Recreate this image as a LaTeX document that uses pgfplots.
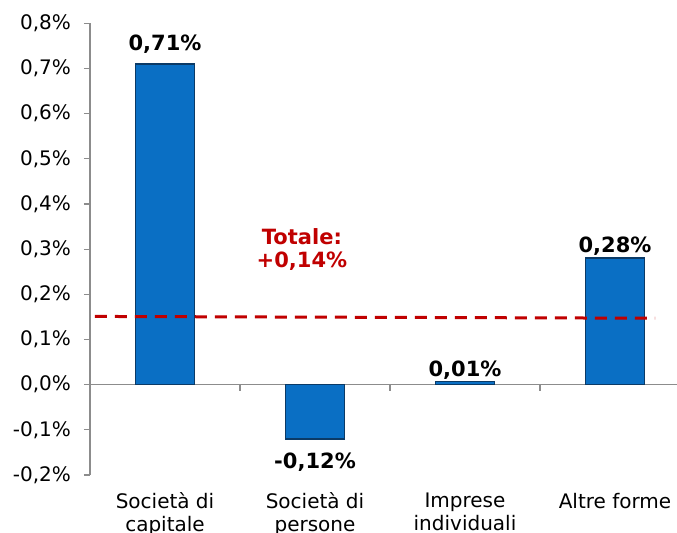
\documentclass[border=0pt]{standalone}
\usepackage{pgfplots}
\pgfplotsset{compat=1.18}
\usepackage{fontspec}
\setmainfont{DejaVu Sans}
\definecolor{barblue}{HTML}{0A6FC4}
\definecolor{baredge}{HTML}{0B3A66}
\definecolor{totred}{HTML}{C00000}
\definecolor{axgray}{HTML}{8C8C8C}

\begin{document}
\begin{tikzpicture}
\useasboundingbox (0,0) rectangle (338.5pt,266pt);
\begin{axis}[
    at={(82.5pt,73.7pt)}, anchor=origin,
    x=75pt, y=225.75pt,
    xmin=-0.5, xmax=3.5,
    ymin=-0.2, ymax=0.8,
    clip=false,
    axis y line=left, axis x line=bottom,
    x axis line style={draw=none},
    y axis line style={axgray, line width=0.6pt, -},
    ytick={-0.2,-0.1,0,0.1,0.2,0.3,0.4,0.5,0.6,0.7,0.8},
    yticklabels={{-0,2\%},{-0,1\%},{0,0\%},{0,1\%},{0,2\%},{0,3\%},{0,4\%},{0,5\%},{0,6\%},{0,7\%},{0,8\%}},
    ytick align=outside, ytick pos=left,
    major y tick style={axgray, line width=0.6pt},
    major tick length=3pt,
    xtick={0,1,2,3},
    xticklabels={Società di\\capitale, Società di\\persone, Imprese\\individuali, Altre forme},
    major x tick style={draw=none},
    tick label style={font=\fontsize{10}{11.5}\selectfont},
    xticklabel style={align=center, anchor=north, yshift=-4pt},
    yticklabel style={xshift=-3pt},
]
% zero line and category separators
\draw[axgray, line width=0.6pt] (axis cs:-0.5,0) -- (axis cs:3.5,0);
\pgfplotsinvokeforeach{0.5,1.5,2.5}{
  \draw[axgray, line width=0.6pt] (axis cs:#1,0) -- ++(0pt,-3pt);
}
% bars
\addplot[ybar, bar width=29.5pt, fill=barblue, draw=baredge, line width=0.8pt]
  coordinates {(0,0.71) (1,-0.12) (2,0.007) (3,0.28)};
% total line
\addplot[totred, dash pattern=on 6pt off 4pt, line width=1.5pt]
  coordinates {(-0.467,0.151) (3.267,0.147)};
% value labels
\addplot[draw=none, mark=none, nodes near coords, point meta=explicit symbolic,
  every node near coord/.style={anchor=center, text=black,
    font=\fontsize{10.5}{12}\selectfont\bfseries}]
  coordinates {(0,0.754) [0,71\%] (1,-0.171) [-0,12\%] (2,0.031) [0,01\%] (3,0.307) [0,28\%]};
\node[text=totred, align=center, font=\fontsize{10.5}{11.5}\selectfont\bfseries]
  at (axis cs:0.913,0.299) {Totale:\\+0,14\%};
\end{axis}
\end{tikzpicture}
\end{document}
